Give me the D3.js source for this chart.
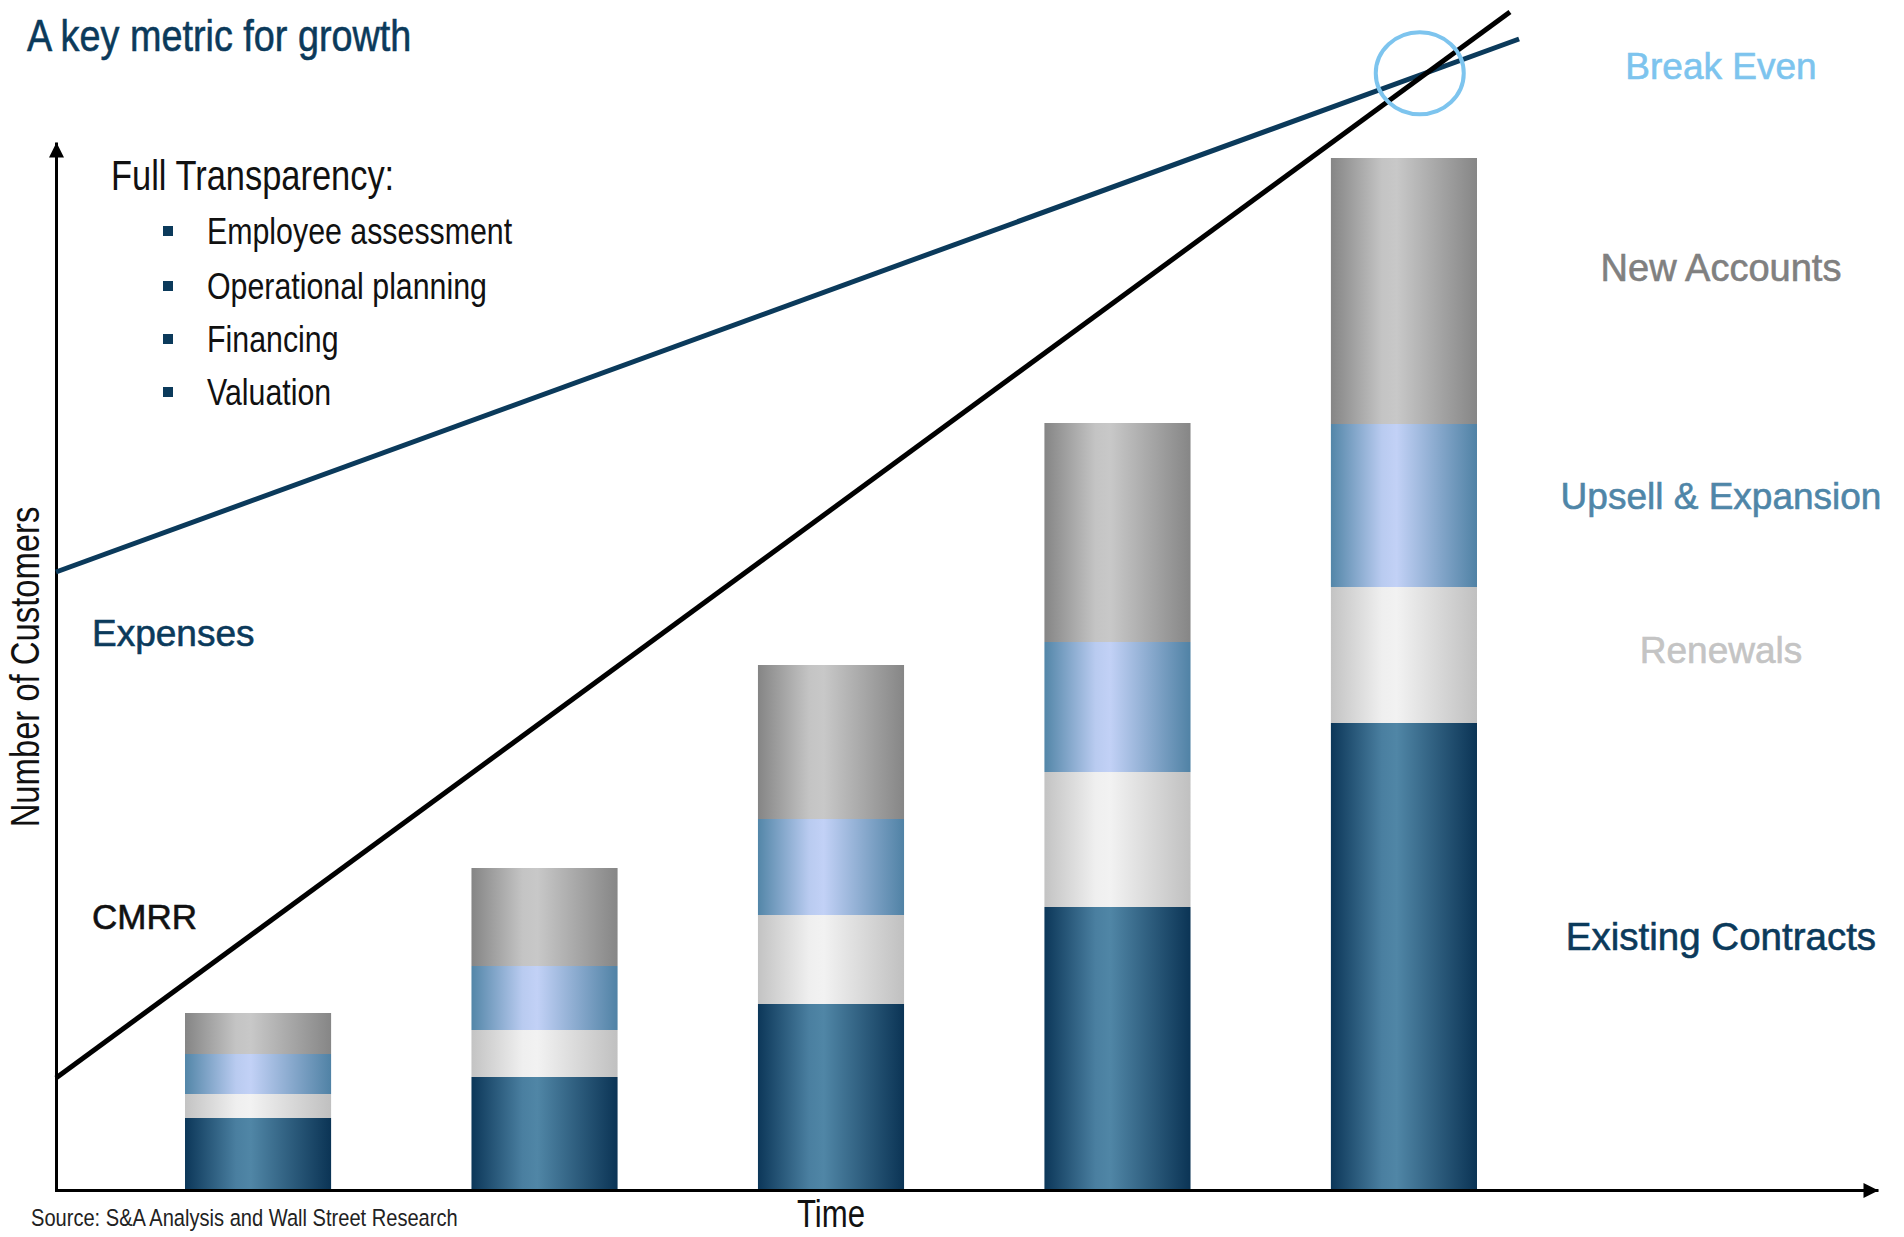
<!DOCTYPE html>
<html><head><meta charset="utf-8">
<script src="https://cdn.jsdelivr.net/npm/d3@7"></script>
<style>
html,body{margin:0;padding:0;background:#fff;}
svg text{font-family:"Liberation Sans",Arial,sans-serif;}
</style></head>
<body>
<script>
// ---- data ----
const periods = ["T1","T2","T3","T4","T5"];
const seriesKeys = ["Existing Contracts","Renewals","Upsell & Expansion","New Accounts"];
const existing = [72,113,186,283,467];
const renewals = [24,47,89,135,136];
const upsell   = [40,64,96,130,163];
const newAcc   = [41,98,154,219,266];
const expensesLine = [[0,618],[8.03,1151]];
const cmrrLine     = [[0,112],[7.98,1178]];
const bullets = ["Employee assessment","Operational planning","Financing","Valuation"];

const W=1904,H=1237;
const svg=d3.select("body").append("svg").attr("width",W).attr("height",H);
const defs=svg.append("defs");

const x0=56, xEnd=1878, yBase=1190;
const y=d3.scaleLinear().domain([0,1050]).range([yBase,140]);
const xb=d3.scaleBand().domain(periods).range([185,1477]).paddingInner(0.49).paddingOuter(0);
const xt=d3.scaleLinear().domain([0,10]).range([x0,xEnd]);

const grads={
 "Existing Contracts":["#0c3759","#4a7fa0","#5086a6","#0b3455"],
 "Renewals":["#c3c3c3","#efefef","#f2f2f2","#c0c0c0"],
 "Upsell & Expansion":["#5386a8","#b9cbf0","#c2d1f6","#5082a5"],
 "New Accounts":["#858585","#c4c4c4","#c8c8c8","#868686"]
};
seriesKeys.forEach((k,i)=>{
  const g=defs.append("linearGradient").attr("id","g"+i).attr("x1","0").attr("x2","1").attr("y1","0").attr("y2","0");
  const c=grads[k];
  g.append("stop").attr("offset","0%").attr("stop-color",c[0]);
  g.append("stop").attr("offset","35%").attr("stop-color",c[1]);
  g.append("stop").attr("offset","45%").attr("stop-color",c[2]);
  g.append("stop").attr("offset","100%").attr("stop-color",c[3]);
});
const mk=defs.append("marker").attr("id","arr").attr("viewBox","0 0 10 10").attr("refX",10).attr("refY",5)
 .attr("markerWidth",5.5).attr("markerHeight",5).attr("orient","auto").attr("markerUnits","strokeWidth");
mk.append("path").attr("d","M0,0 L10,5 L0,10 Z").attr("fill","#000");

const table=periods.map((p,i)=>({period:p,"Existing Contracts":existing[i],"Renewals":renewals[i],"Upsell & Expansion":upsell[i],"New Accounts":newAcc[i]}));
const stacked=d3.stack().keys(seriesKeys)(table);

svg.append("g").selectAll("g").data(stacked).join("g")
 .attr("fill",(d,i)=>"url(#g"+i+")")
 .selectAll("rect").data(d=>d).join("rect")
 .attr("x",d=>xb(d.data.period)).attr("width",xb.bandwidth())
 .attr("y",d=>y(d[1])).attr("height",d=>y(d[0])-y(d[1]));

// axes
const yAxis=svg.append("g").attr("transform",`translate(${x0},0)`)
 .call(d3.axisLeft(d3.scaleLinear().domain([0,1]).range([yBase,142])).tickValues([]).tickSizeOuter(0));
yAxis.select(".domain").attr("stroke","#000").attr("stroke-width",3).attr("marker-end","url(#arr)");
const xAxis=svg.append("g").attr("transform",`translate(0,${yBase})`)
 .call(d3.axisBottom(d3.scaleLinear().domain([0,1]).range([x0-1.5,xEnd])).tickValues([]).tickSizeOuter(0));
xAxis.select(".domain").attr("stroke","#000").attr("stroke-width",3).attr("marker-end","url(#arr)");

// lines
const line=d3.line().x(d=>xt(d[0])).y(d=>y(d[1]));
svg.append("path").datum(expensesLine).attr("d",line).attr("fill","none").attr("stroke","#0b3a5b").attr("stroke-width",5);
svg.append("path").datum(cmrrLine).attr("d",line).attr("fill","none").attr("stroke","#000").attr("stroke-width",5);

// break-even circle at intersection
const s1=(expensesLine[1][1]-expensesLine[0][1])/(expensesLine[1][0]-expensesLine[0][0]);
const s2=(cmrrLine[1][1]-cmrrLine[0][1])/(cmrrLine[1][0]-cmrrLine[0][0]);
const ti=(expensesLine[0][1]-cmrrLine[0][1])/(s2-s1);
const vi=cmrrLine[0][1]+s2*ti;
svg.append("ellipse").attr("cx",xt(ti)-8).attr("cy",y(vi)+1).attr("rx",44).attr("ry",41)
 .attr("fill","none").attr("stroke","#7dc4ee").attr("stroke-width",4);

// narrow text helper (Arial Narrow look)
function ntext(x,yy,str,size,color,anchor,rot,sx){
  return svg.append("text")
   .attr("transform",`translate(${x},${yy})`+(rot?` rotate(${rot})`:"")+` scale(${sx||0.82},1)`)
   .attr("font-size",size).attr("fill",color).attr("text-anchor",anchor||"start").text(str);
}
ntext(27,51,"A key metric for growth",45,"#0b3a5b",null,null,0.84).attr("stroke","#0b3a5b").attr("stroke-width",0.6);
ntext(111,190,"Full Transparency:",42,"#111");
const by=[231,286,339,392];
bullets.forEach((b,i)=>{
  svg.append("rect").attr("x",163).attr("y",by[i]-5).attr("width",10).attr("height",10).attr("fill","#0b3a5b");
  ntext(207,by[i]+13,b,37,"#111");
});
svg.append("text").attr("x",92).attr("y",646).attr("font-size",37).attr("fill","#0b3a5b").attr("stroke","#0b3a5b").attr("stroke-width",0.6).text("Expenses");
svg.append("text").attr("x",92).attr("y",929).attr("font-size",35).attr("fill","#111").attr("stroke","#111").attr("stroke-width",0.6).text("CMRR");

const rl=[["Break Even",79,"#7dc4ee",37],["New Accounts",281,"#808080",38],["Upsell & Expansion",509,"#4f86a8",37],["Renewals",663,"#c4c4c4",37],["Existing Contracts",950,"#0b3a5b",38.5]];
rl.forEach(r=>svg.append("text").attr("x",1721).attr("y",r[1]).attr("text-anchor","middle")
 .attr("font-size",r[3]).attr("fill",r[2]).attr("stroke",r[2]).attr("stroke-width",0.6).text(r[0]));

ntext(39,667,"Number of Customers",40,"#111","middle",-90);
ntext(831,1227,"Time",38,"#111","middle");
ntext(31,1226,"Source: S&A Analysis and Wall Street Research",24.5,"#222");
</script>
</body></html>
